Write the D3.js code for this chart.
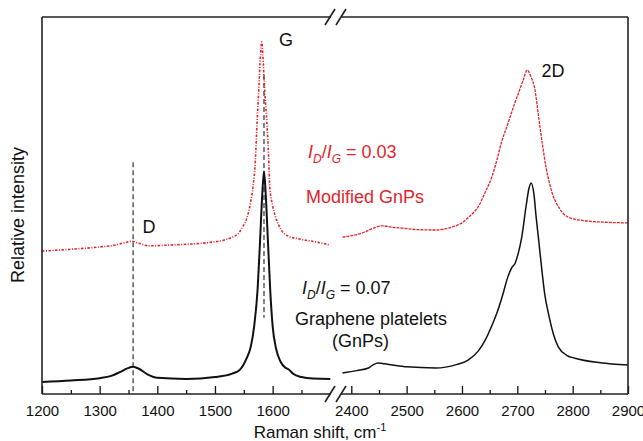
<!DOCTYPE html>
<html>
<head>
<meta charset="utf-8">
<script src="https://cdnjs.cloudflare.com/ajax/libs/d3/7.8.5/d3.min.js"></script>
<style>
  body { margin: 0; background: #fff; }
  text { font-family: "Liberation Sans", Arial, sans-serif; }
</style>
</head>
<body>
<div id="chart"></div>
<script>
// Raman spectra, values (intensity in arbitrary units)

// Graphene platelets (black) - low wavenumber part (D and G bands)
var gnpLowShift = [1200, 1250, 1300, 1320, 1335, 1348, 1358, 1368, 1382, 1400, 1450, 1500, 1530, 1543, 1555, 1562, 1568, 1574, 1578, 1582, 1585, 1588, 1592, 1596, 1600, 1606, 1614, 1622, 1628, 1636, 1650, 1670, 1700];
var gnpLowInt   = [3.2, 3.6, 4.2, 4.8, 5.8, 6.8, 7.2, 6.7, 5.3, 4.3, 4.0, 4.5, 5.4, 6.4, 9.5, 12.5, 18, 28, 40, 53, 59, 53, 40, 27, 18, 12, 8.5, 7.0, 6.5, 5.3, 4.5, 4.1, 4.0];

// Graphene platelets (black) - 2D band part
var gnpHighShift = [2384, 2410, 2431, 2440, 2449, 2460, 2474, 2500, 2552, 2590, 2611, 2630, 2642, 2655, 2665, 2675, 2681, 2690, 2696, 2702, 2708, 2716, 2721, 2725, 2730, 2734, 2738, 2745, 2750, 2756, 2765, 2774, 2790, 2804, 2850, 2900];
var gnpHighInt   = [5.6, 6.2, 6.9, 7.8, 8.2, 8.0, 7.7, 7.2, 6.9, 7.8, 9.0, 11.5, 14.3, 18.5, 22.3, 27, 30.2, 33.5, 34.7, 37.5, 41.6, 50, 54.5, 56, 53, 47, 41.6, 32, 26, 21.5, 16, 12.5, 10.2, 9.5, 8.3, 7.7];

// Modified GnPs (red) - low wavenumber part
var modLowShift = [1200, 1250, 1300, 1330, 1345, 1356, 1368, 1385, 1420, 1460, 1490, 1515, 1530, 1540, 1548, 1556, 1562, 1566, 1570, 1573, 1576, 1579, 1581, 1583, 1586, 1590, 1593, 1595, 1600, 1605, 1612, 1625, 1650, 1677, 1700];
var modLowInt   = [37.9, 38.4, 39.0, 39.6, 40.2, 40.5, 40.0, 39.3, 39.5, 39.8, 40.2, 40.8, 41.6, 42.5, 44.3, 47, 51, 55, 62, 72, 81, 90, 93.4, 90, 81, 72, 63, 55, 50, 47, 44.3, 42, 41, 40.3, 39.5];

// Modified GnPs (red) - 2D band part
var modHighShift = [2384, 2410, 2425, 2440, 2456, 2475, 2492, 2520, 2552, 2580, 2600, 2615, 2629, 2642, 2654, 2663, 2671, 2680, 2687, 2695, 2702, 2710, 2718, 2725, 2732, 2738, 2745, 2752, 2758, 2763, 2775, 2792, 2820, 2853, 2900];
var modHighInt   = [41.6, 42.3, 43.0, 44.0, 44.6, 44.2, 44.0, 43.6, 43.5, 44.2, 45.4, 47.3, 49.6, 53.5, 57.6, 62, 66.6, 70.5, 73.5, 77, 79.8, 83, 85.9, 84, 80.6, 74, 66.6, 60, 56, 53.3, 49.5, 46.9, 46, 45.6, 45.4];

// tick values for the broken x axis
var lowTicks = [1200, 1300, 1400, 1500, 1600];
var lowMinor = [1250, 1350, 1450, 1550, 1650];
var highTicks = [2400, 2500, 2600, 2700, 2800, 2900];
var highMinor = [2450, 2550, 2650, 2750, 2850];

// dashed marker lines: [position, top intensity, bottom intensity]
var markerD = [1358, 61.5, 0];
var markerG = [1585, 84.6, 20.2];

var w = 643, h = 441;
var plotTop = 17, plotBottom = 394, plotLeft = 42, plotRight = 628;
var black = "#111", red = "#e3242b";

var svg = d3.select("#chart").append("svg")
    .attr("width", w)
    .attr("height", h);

var xLow = d3.scaleLinear().domain([1200, 1700]).range([plotLeft, 330.3]);
var xHigh = d3.scaleLinear().domain([2385, 2900]).range([343, plotRight]);
var y = d3.scaleLinear().domain([0, 100]).range([plotBottom, plotTop]);

function zip(xs, ys) {
    return xs.map(function (v, i) { return [v, ys[i]]; });
}

function drawCurve(xScale, xs, ys, color, width, dash) {
    var line = d3.line()
        .x(function (d) { return xScale(d[0]); })
        .y(function (d) { return y(d[1]); })
        .curve(d3.curveMonotoneX);
    svg.append("path")
        .datum(zip(xs, ys))
        .attr("fill", "none")
        .attr("stroke", color)
        .attr("stroke-width", width)
        .attr("stroke-dasharray", dash)
        .attr("d", line);
}

// dashed peak markers
[markerD, markerG].forEach(function (m) {
    svg.append("line")
        .attr("x1", xLow(m[0])).attr("x2", xLow(m[0]))
        .attr("y1", y(m[1])).attr("y2", y(m[2]))
        .attr("stroke", "#333")
        .attr("stroke-width", 1.2)
        .attr("stroke-dasharray", "5,3");
});

drawCurve(xLow, modLowShift, modLowInt, red, 1.6, "2.5,1.5,1,1.5");
drawCurve(xHigh, modHighShift, modHighInt, red, 1.3, "3,1");
drawCurve(xLow, gnpLowShift, gnpLowInt, black, 2, null);
drawCurve(xHigh, gnpHighShift, gnpHighInt, black, 1.5, null);

// x axes (ticks point inwards)
function addAxis(scale, major, minor) {
    var g = svg.append("g")
        .attr("transform", "translate(0," + plotBottom + ")")
        .call(d3.axisBottom(scale).tickValues(major).tickFormat(d3.format("d"))
            .tickSizeInner(-8).tickSizeOuter(0).tickPadding(11));
    g.select(".domain").remove();
    g.selectAll("line").attr("stroke", black).attr("stroke-width", 1.3);
    g.selectAll("text").attr("font-size", "15px").attr("fill", black)
        .style("font-family", "'Liberation Sans', Arial, sans-serif");
    var m = svg.append("g")
        .attr("transform", "translate(0," + plotBottom + ")")
        .call(d3.axisBottom(scale).tickValues(minor).tickSizeInner(-4).tickSizeOuter(0).tickFormat(""));
    m.select(".domain").remove();
    m.selectAll("line").attr("stroke", black).attr("stroke-width", 1.3);
}
addAxis(xLow, lowTicks, lowMinor);
addAxis(xHigh, highTicks, highMinor);

// frame with axis break
var frame = svg.append("g").attr("stroke", "#222").attr("stroke-width", 1.6).attr("fill", "none");
frame.append("line").attr("x1", plotLeft).attr("x2", 331).attr("y1", plotBottom).attr("y2", plotBottom);
frame.append("line").attr("x1", 341).attr("x2", plotRight).attr("y1", plotBottom).attr("y2", plotBottom);
frame.append("line").attr("x1", plotLeft).attr("x2", 331).attr("y1", plotTop).attr("y2", plotTop);
frame.append("line").attr("x1", 341).attr("x2", plotRight).attr("y1", plotTop).attr("y2", plotTop);
frame.append("line").attr("x1", plotLeft).attr("x2", plotLeft).attr("y1", plotTop).attr("y2", plotBottom);
frame.append("line").attr("x1", plotRight).attr("x2", plotRight).attr("y1", plotTop).attr("y2", plotBottom);

[plotBottom, plotTop].forEach(function (yy) {
    frame.append("line").attr("x1", 325).attr("y1", yy + 8).attr("x2", 335).attr("y2", yy - 8);
    frame.append("line").attr("x1", 336).attr("y1", yy + 8).attr("x2", 346).attr("y2", yy - 8);
});

// axis titles
var xt = svg.append("text")
    .attr("x", 320)
    .attr("y", 438)
    .attr("text-anchor", "middle")
    .attr("font-size", "17px")
    .attr("fill", black);
xt.append("tspan").text("Raman shift, cm");
xt.append("tspan").attr("font-size", "11px").attr("dy", "-7").text("-1");

svg.append("text")
    .attr("transform", "translate(24,215) rotate(-90)")
    .attr("text-anchor", "middle")
    .attr("font-size", "18px")
    .attr("fill", black)
    .text("Relative intensity");

// peak labels
function label(txt, x, yy, color) {
    svg.append("text")
        .attr("x", x).attr("y", yy)
        .attr("text-anchor", "middle")
        .attr("font-size", "18px")
        .attr("fill", color)
        .text(txt);
}
label("D", 149, 233, black);
label("G", 286, 46, black);
label("2D", 553, 77, black);

// I_D/I_G ratio labels
function ratio(x, yy, value, color) {
    var t = svg.append("text")
        .attr("x", x).attr("y", yy)
        .attr("font-size", "18px")
        .attr("fill", color);
    t.append("tspan").attr("font-style", "italic").text("I");
    t.append("tspan").attr("font-style", "italic").attr("font-size", "12px").attr("dy", "5").text("D");
    t.append("tspan").attr("dy", "-5").text("/");
    t.append("tspan").attr("font-style", "italic").text("I");
    t.append("tspan").attr("font-style", "italic").attr("font-size", "12px").attr("dy", "5").text("G");
    t.append("tspan").attr("dy", "-5").text(" = " + value);
}
ratio(308, 158, "0.03", red);
ratio(302, 294, "0.07", black);

function plain(txt, x, yy, color) {
    svg.append("text")
        .attr("x", x).attr("y", yy)
        .attr("font-size", "18px")
        .attr("fill", color)
        .text(txt);
}
plain("Modified GnPs", 306, 203, red);
plain("Graphene platelets", 295, 325, black);
plain("(GnPs)", 332, 347, black);
</script>
</body>
</html>
